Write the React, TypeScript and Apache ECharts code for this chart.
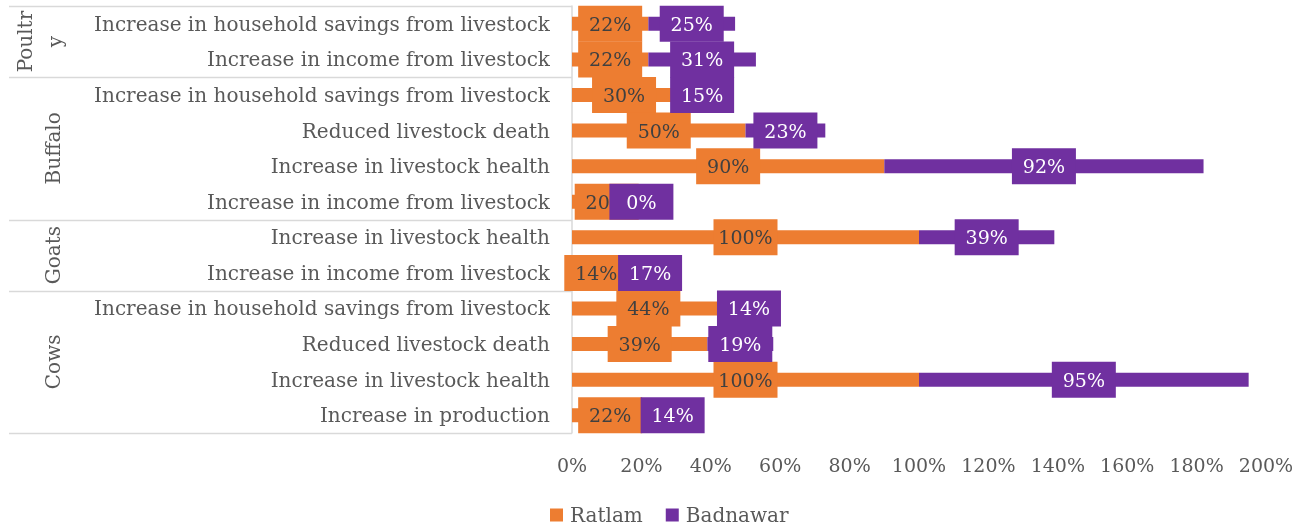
import React, { useEffect, useRef } from "react";
import * as echarts from "echarts";

// Rows from top to bottom
const categories = [
  "Increase in household savings from livestock",
  "Increase in income from livestock",
  "Increase in household savings from livestock",
  "Reduced livestock death",
  "Increase in livestock health",
  "Increase in income from livestock",
  "Increase in livestock health",
  "Increase in income from livestock",
  "Increase in household savings from livestock",
  "Reduced livestock death",
  "Increase in livestock health",
  "Increase in production",
];
const categoryGroups = [
  "Poultry", "Poultry",
  "Buffalo", "Buffalo", "Buffalo", "Buffalo",
  "Goats", "Goats",
  "Cows", "Cows", "Cows", "Cows",
];
// Group captions as drawn (the narrow column wraps "Poultry")
const groupCaptions: Record<string, string> = {
  Poultry: "Poultr\ny",
  Buffalo: "Buffalo",
  Goats: "Goats",
  Cows: "Cows",
};
const ratlam = [22, 22, 30, 50, 90, 20, 100, 14, 44, 39, 100, 22];
const badnawar = [25, 31, 15, 23, 92, 0, 39, 17, 14, 19, 95, 14];
const xTicks = { min: 0, max: 200, interval: 20 };

const FONT = "DejaVu Serif";
const FS = 20; // category and caption text
const NFS = 19; // numbers
const TEXT = "#595959";
const ORANGE = "#ED7D31";
const PURPLE = "#7030A0";
const LINE = "#D9D9D9";

export default function App() {
  const ref = useRef<HTMLDivElement>(null);

  useEffect(() => {
    if (!ref.current) return;
    const chart = echarts.init(ref.current, null, { renderer: "svg" });

    const boxLabel = (bg: string, color: string) => ({
      show: true,
      position: "inside",
      formatter: "{c}%",
      fontFamily: FONT,
      fontSize: NFS,
      color,
      backgroundColor: bg,
      width: 64,
      height: 36,
      lineHeight: 36,
      align: "center",
      verticalAlign: "middle",
    });

    chart.setOption({
      animation: false,
      textStyle: { fontFamily: FONT },
      grid: { left: 572, right: 48, top: 6, bottom: 96 },
      legend: {
        left: 545,
        top: 498,
        itemWidth: 13,
        itemHeight: 13,
        itemGap: 23,
        icon: "rect",
        textStyle: {
          fontFamily: FONT,
          fontSize: FS,
          color: TEXT,
          lineHeight: 24,
          padding: [0, 0, 0, 2],
        },
        data: ["Ratlam", "Badnawar"],
      },
      xAxis: {
        type: "value",
        min: xTicks.min,
        max: xTicks.max,
        interval: xTicks.interval,
        axisLine: { show: false },
        axisTick: { show: false },
        splitLine: { show: false },
        axisLabel: {
          formatter: "{value}%",
          fontFamily: FONT,
          fontSize: NFS,
          color: TEXT,
          margin: 22,
        },
      },
      yAxis: {
        type: "category",
        inverse: true,
        data: categories.map((c, i) => `${categoryGroups[i]} · ${c}`),
        axisLine: { show: true, lineStyle: { color: LINE, width: 1.5 } },
        axisTick: { show: false },
        axisLabel: {
          formatter: (_v: string, i: number) => categories[i],
          fontFamily: FONT,
          fontSize: FS,
          color: TEXT,
          margin: 22,
        },
      },
      series: [
        {
          name: "Ratlam",
          type: "bar",
          stack: "total",
          barWidth: 14,
          itemStyle: { color: ORANGE },
          label: boxLabel(ORANGE, "#404040"),
          data: ratlam,
        },
        {
          name: "Badnawar",
          type: "bar",
          stack: "total",
          barWidth: 14,
          itemStyle: { color: PURPLE },
          label: boxLabel(PURPLE, "#FFFFFF"),
          data: badnawar,
        },
      ],
    });

    // Group separators and rotated group captions on the category axis
    const axisX = chart.convertToPixel({ xAxisIndex: 0 }, 0) as number;
    const c0 = chart.convertToPixel({ yAxisIndex: 0 }, 0) as number;
    const c1 = chart.convertToPixel({ yAxisIndex: 0 }, 1) as number;
    const band = c1 - c0;
    const edgeAbove = (i: number) => (chart.convertToPixel({ yAxisIndex: 0 }, i) as number) - band / 2;

    const starts: number[] = [];
    categoryGroups.forEach((g, i) => {
      if (i === 0 || categoryGroups[i - 1] !== g) starts.push(i);
    });
    const elements: any[] = [];
    const boundaries = [...starts, categoryGroups.length];
    boundaries.forEach((idx) => {
      const y = Math.round(edgeAbove(idx)) + 0.5;
      elements.push({
        type: "line",
        shape: { x1: 9, y1: y, x2: axisX, y2: y },
        style: { stroke: LINE, lineWidth: 1.5 },
        silent: true,
      });
    });
    starts.forEach((s, k) => {
      const e = boundaries[k + 1];
      const yMid = (edgeAbove(s) + edgeAbove(e)) / 2;
      const name = categoryGroups[s];
      const caption = groupCaptions[name] ?? name;
      const twoLines = caption.includes("\n");
      elements.push({
        type: "text",
        x: twoLines ? 40 : 53,
        y: yMid,
        rotation: Math.PI / 2,
        silent: true,
        style: {
          text: caption,
          fontFamily: FONT,
          fontSize: FS,
          lineHeight: 30,
          fill: TEXT,
          align: "center",
          verticalAlign: "middle",
        },
      });
    });
    chart.setOption({ graphic: { elements } });

    return () => chart.dispose();
  }, []);

  return (
    <div
      ref={ref}
      style={{ position: "fixed", left: 0, top: 0, width: 1314, height: 529 }}
    />
  );
}
